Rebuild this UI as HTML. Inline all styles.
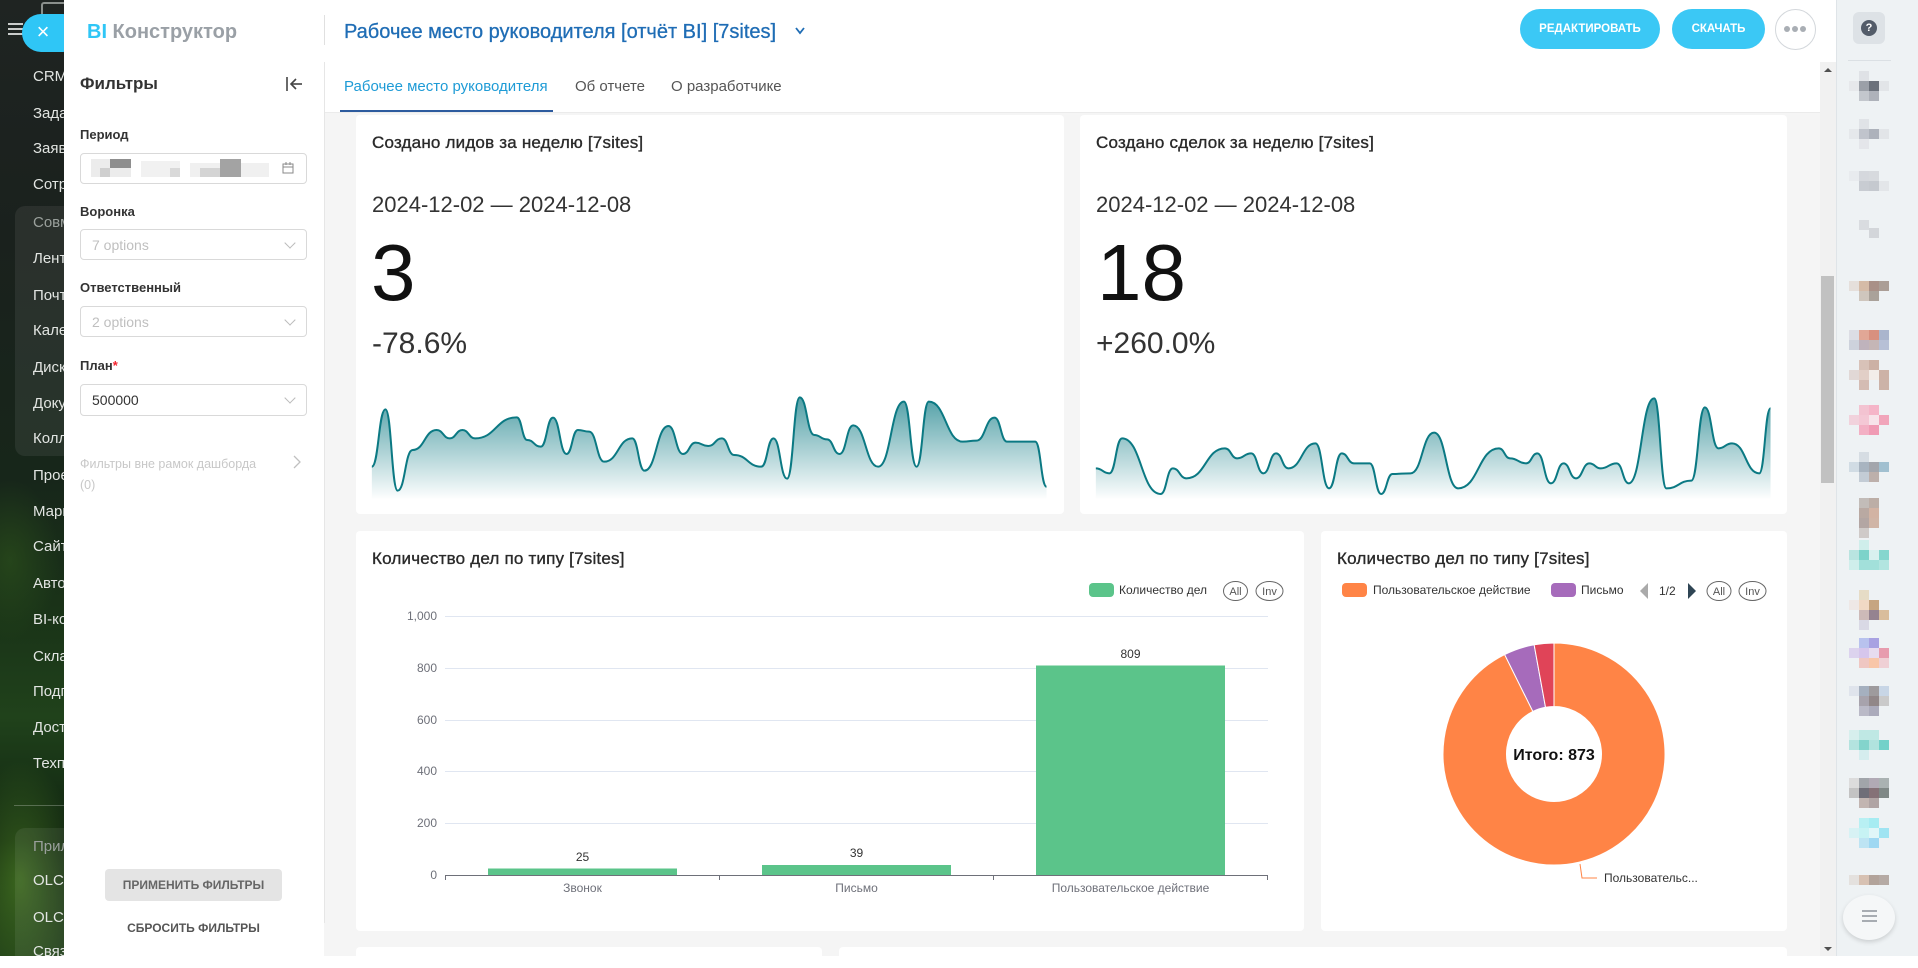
<!DOCTYPE html>
<html><head><meta charset="utf-8">
<style>
*{box-sizing:border-box;margin:0;padding:0}
body{width:1918px;height:956px;overflow:hidden;position:relative;background:#fff;font-family:"Liberation Sans","DejaVu Sans",sans-serif;color:#333}
.a{position:absolute;white-space:nowrap}
.side{position:absolute;left:0;top:0;width:70px;height:956px;background:
radial-gradient(ellipse 60px 120px at 20px 880px,rgba(90,150,40,.55),rgba(0,0,0,0)),
radial-gradient(ellipse 50px 80px at 10px 560px,rgba(60,110,30,.35),rgba(0,0,0,0)),
linear-gradient(180deg,#1f2422 0%,#1a211d 25%,#17261a 50%,#1a3418 65%,#20421b 75%,#0f2210 88%,#1d3a17 100%)}
.mi{position:absolute;left:33px;font-size:15px;color:#e2e5e2;line-height:20px;white-space:nowrap}
.grp{position:absolute;left:15px;width:60px;background:rgba(255,255,255,.07);border-radius:10px}
.card{position:absolute;background:#fff;border-radius:4px}
.lbl{position:absolute;left:80px;font-size:13px;font-weight:bold;color:#333;line-height:16px;white-space:nowrap}
.inp{position:absolute;left:80px;width:227px;height:31px;border:1px solid #d9d9d9;border-radius:4px;background:#fff}
.inp span{position:absolute;left:11px;top:7px;font-size:14px;line-height:16px}
.chev{position:absolute;right:12px;top:9px;width:8px;height:8px;border-right:1px solid #bbb;border-bottom:1px solid #bbb;transform:rotate(45deg)}
.ct{position:absolute;font-size:17px;letter-spacing:0.2px;line-height:20px;color:#2a2a2a;-webkit-text-stroke:0.35px #2a2a2a;white-space:nowrap}
.dt{position:absolute;font-size:22px;line-height:22px;color:#333;white-space:nowrap}
.big{position:absolute;font-size:80px;line-height:80px;color:#111;white-space:nowrap}
.pct{position:absolute;font-size:30px;line-height:30px;color:#333;white-space:nowrap}
.av{position:absolute;left:1849px;width:40px}
.av i{position:absolute;width:10px;height:10px}
</style></head><body>

<!-- left dark sidebar -->
<div class="side"></div>
<div class="a" style="left:41px;top:2px;width:26px;height:12px;border:2px solid #8a8f8c;border-bottom:none;border-radius:3px 3px 0 0"></div>
<div class="a" style="left:8px;top:23px;width:15px;height:2px;background:#c9cccb"></div>
<div class="a" style="left:8px;top:28px;width:15px;height:2px;background:#c9cccb"></div>
<div class="a" style="left:8px;top:33px;width:15px;height:2px;background:#c9cccb"></div>
<div class="grp" style="top:206px;height:250px"></div>
<div class="grp" style="top:828px;height:140px"></div>
<div class="a" style="left:14px;top:805px;width:56px;height:1px;background:rgba(255,255,255,.25)"></div>
<div class="mi" style="top:67px">CRM</div>
<div class="mi" style="top:104px">Задачи</div>
<div class="mi" style="top:139px">Заявки</div>
<div class="mi" style="top:175px">Сотрудники</div>
<div class="mi" style="top:213px;color:#9aa09c">Совместная</div>
<div class="mi" style="top:249px">Лента</div>
<div class="mi" style="top:286px">Почта</div>
<div class="mi" style="top:321px">Календарь</div>
<div class="mi" style="top:358px">Диск</div>
<div class="mi" style="top:394px">Документы</div>
<div class="mi" style="top:429px">Коллабы</div>
<div class="mi" style="top:466px">Проекты</div>
<div class="mi" style="top:502px">Маркетинг</div>
<div class="mi" style="top:537px">Сайты</div>
<div class="mi" style="top:574px">Автоматизация</div>
<div class="mi" style="top:610px">BI-конструктор</div>
<div class="mi" style="top:647px">Склад</div>
<div class="mi" style="top:682px">Подписка</div>
<div class="mi" style="top:718px">Доставка</div>
<div class="mi" style="top:754px">Техподдержка</div>
<div class="mi" style="top:837px;color:#9aa09c">Приложения</div>
<div class="mi" style="top:871px">OLCHAT</div>
<div class="mi" style="top:908px">OLCHAT</div>
<div class="mi" style="top:942px">Связь</div>
<div class="a" style="left:22px;top:14px;width:60px;height:38px;border-radius:19px;background:#2fc6f6"></div>
<div class="a" style="left:33px;top:18px;width:20px;font-size:22px;line-height:28px;color:#fff;text-align:center">×</div>

<!-- filter panel -->
<div class="a" style="left:64px;top:0;width:260px;height:956px;background:#fff"></div>

<!-- main gray area -->
<div class="a" style="left:324px;top:113px;width:1496px;height:843px;background:#f5f5f5"></div>
<div class="a" style="left:324px;top:112px;width:1496px;height:1px;background:#ebebeb"></div>
<div class="a" style="left:324px;top:62px;width:1px;height:861px;background:#e6e6e6"></div>
<div class="a" style="left:324px;top:15px;width:1px;height:30px;background:#e0e0e0"></div>

<!-- header -->
<div class="a" style="left:87px;top:21px;font-size:20px;line-height:22px;font-weight:bold;color:#9aa0a6"><span style="color:#2fc6f6">BI</span> Конструктор</div>
<div class="a" style="left:344px;top:21px;font-size:20px;line-height:22px;color:#1f6db5;-webkit-text-stroke:0.3px #1f6db5">Рабочее место руководителя [отчёт BI] [7sites]</div>
<svg class="a" style="left:794px;top:26px" width="12" height="10"><polyline points="2,2 6,7 10,2" fill="none" stroke="#1f6db5" stroke-width="1.8"/></svg>
<div class="a" style="left:1520px;top:9px;width:140px;height:40px;border-radius:20px;background:#3bc8f5;color:#fff;font-size:11.5px;font-weight:bold;line-height:40px;text-align:center">РЕДАКТИРОВАТЬ</div>
<div class="a" style="left:1672px;top:9px;width:93px;height:40px;border-radius:20px;background:#3bc8f5;color:#fff;font-size:11.5px;font-weight:bold;line-height:40px;text-align:center">СКАЧАТЬ</div>
<div class="a" style="left:1775px;top:9px;width:41px;height:41px;border-radius:50%;border:1px solid #d3d7db;background:#fff"></div>
<div class="a" style="left:1784px;top:26px;width:6px;height:6px;border-radius:50%;background:#a9aeb4"></div>
<div class="a" style="left:1792px;top:26px;width:6px;height:6px;border-radius:50%;background:#a9aeb4"></div>
<div class="a" style="left:1800px;top:26px;width:6px;height:6px;border-radius:50%;background:#a9aeb4"></div>

<!-- tabs -->
<div class="a" style="left:344px;top:78px;font-size:15px;line-height:18px;color:#1e9bd6">Рабочее место руководителя</div>
<div class="a" style="left:575px;top:78px;font-size:15px;line-height:18px;color:#555">Об отчете</div>
<div class="a" style="left:671px;top:78px;font-size:15px;line-height:18px;color:#555">О разработчике</div>
<div class="a" style="left:340px;top:110px;width:213px;height:2px;background:#2d5b9e"></div>

<!-- filters content -->
<div class="a" style="left:80px;top:74px;font-size:17px;font-weight:bold;line-height:20px;color:#333">Фильтры</div>
<svg class="a" style="left:284px;top:76px" width="20" height="16"><line x1="3" y1="1" x2="3" y2="15" stroke="#444" stroke-width="1.6"/><line x1="7" y1="8" x2="18" y2="8" stroke="#444" stroke-width="1.6"/><polyline points="12,3 7,8 12,13" fill="none" stroke="#444" stroke-width="1.6"/></svg>
<div class="lbl" style="top:127px">Период</div>
<div class="inp" style="top:153px"></div>
<div class="a" style="left:91px;top:159px;width:40px;height:18px;background:#ececec"></div>
<div class="a" style="left:110px;top:159px;width:21px;height:9px;background:#8e8e8e"></div>
<div class="a" style="left:100px;top:168px;width:10px;height:9px;background:#cfcfcf"></div>
<div class="a" style="left:141px;top:161px;width:39px;height:16px;background:#f1f1f1"></div>
<div class="a" style="left:170px;top:168px;width:10px;height:9px;background:#d9d9d9"></div>
<div class="a" style="left:190px;top:163px;width:79px;height:14px;background:#f0f0f0"></div>
<div class="a" style="left:220px;top:159px;width:21px;height:18px;background:#a3a3a3"></div>
<div class="a" style="left:200px;top:168px;width:20px;height:9px;background:#d4d4d4"></div>
<svg class="a" style="left:282px;top:162px" width="12" height="12"><rect x="1" y="2" width="10" height="9" fill="none" stroke="#888" stroke-width="1"/><line x1="1" y1="5" x2="11" y2="5" stroke="#888"/><line x1="4" y1="0" x2="4" y2="3" stroke="#888"/><line x1="8" y1="0" x2="8" y2="3" stroke="#888"/></svg>
<div class="lbl" style="top:204px">Воронка</div>
<div class="inp" style="top:229px"><span style="color:#bfbfbf">7 options</span><div class="chev"></div></div>
<div class="lbl" style="top:280px">Ответственный</div>
<div class="inp" style="top:306px"><span style="color:#bfbfbf">2 options</span><div class="chev"></div></div>
<div class="lbl" style="top:358px">План<span style="color:#f5222d">*</span></div>
<div class="inp" style="top:384px;height:32px"><span style="color:#333">500000</span><div class="chev"></div></div>
<div class="a" style="left:80px;top:456px;font-size:12.5px;line-height:16px;color:#c8c8c8">Фильтры вне рамок дашборда</div>
<div class="a" style="left:80px;top:477px;font-size:12.5px;line-height:16px;color:#c8c8c8">(0)</div>
<svg class="a" style="left:292px;top:455px" width="10" height="14"><polyline points="2,1 8,7 2,13" fill="none" stroke="#c0c0c0" stroke-width="1.3"/></svg>
<div class="a" style="left:105px;top:869px;width:177px;height:32px;background:#e4e4e4;border-radius:4px;font-size:12px;font-weight:bold;color:#666;line-height:32px;text-align:center">ПРИМЕНИТЬ ФИЛЬТРЫ</div>
<div class="a" style="left:105px;top:920px;width:177px;font-size:12px;font-weight:bold;color:#555;line-height:16px;text-align:center">СБРОСИТЬ ФИЛЬТРЫ</div>

<!-- scrollbar -->
<div class="a" style="left:1820px;top:62px;width:16px;height:894px;background:#f1f1f1"></div>
<div class="a" style="left:1821px;top:276px;width:13px;height:207px;background:#c1c1c1"></div>
<svg class="a" style="left:1822px;top:66px" width="12" height="8"><polygon points="2,6 6,2 10,6" fill="#505050"/></svg>
<svg class="a" style="left:1822px;top:945px" width="12" height="8"><polygon points="2,2 6,6 10,2" fill="#505050"/></svg>

<!-- right panel -->
<div class="a" style="left:1836px;top:0;width:82px;height:956px;background:#eef2f4;border-left:1px solid #dfe4e8"></div>
<div class="a" style="left:1853px;top:12px;width:32px;height:32px;border-radius:6px;background:#dde2e6"></div>
<div class="a" style="left:1861px;top:20px;width:16px;height:16px;border-radius:50%;background:#535c69;color:#fff;font-size:11px;font-weight:bold;line-height:16px;text-align:center">?</div>
<div class="a" style="left:1848px;top:60px;width:43px;height:1px;background:#dbe0e4"></div>

<div class="av" style="top:71px"><i style="left:0;top:10px;background:#e6e8eb"></i><i style="left:10px;top:0;background:#dfe2e6"></i><i style="left:10px;top:10px;background:#9ba0a8"></i><i style="left:20px;top:10px;background:#6b717b"></i><i style="left:10px;top:20px;background:#c3c7cd"></i><i style="left:20px;top:20px;background:#aeb2ba"></i><i style="left:30px;top:10px;background:#e2e5e8"></i></div>
<div class="av" style="top:119px"><i style="left:0;top:10px;background:#e5e8eb"></i><i style="left:10px;top:0;background:#e0e3e7"></i><i style="left:10px;top:10px;background:#c0c4cc"></i><i style="left:20px;top:10px;background:#adb2bb"></i><i style="left:30px;top:10px;background:#e2e5e8"></i><i style="left:10px;top:20px;background:#e4e6ea"></i></div>
<div class="av" style="top:171px"><i style="left:0;top:0;background:#e8ebee"></i><i style="left:10px;top:0;background:#d5d8dd"></i><i style="left:20px;top:0;background:#d7dade"></i><i style="left:10px;top:10px;background:#c8ccd2"></i><i style="left:20px;top:10px;background:#c5c9cf"></i><i style="left:30px;top:10px;background:#e3e6e9"></i></div>
<div class="av" style="top:220px"><i style="left:10px;top:0;background:#d9dce0"></i><i style="left:20px;top:8px;background:#d3d6da"></i></div>
<div class="av" style="top:271px"><i style="left:0;top:10px;background:#e5dfdb"></i><i style="left:10px;top:10px;background:#d5bba7"></i><i style="left:20px;top:10px;background:#a99087"></i><i style="left:30px;top:10px;background:#ab9e96"></i><i style="left:10px;top:20px;background:#cfc6bd"></i><i style="left:20px;top:20px;background:#aaa29a"></i></div>
<div class="av" style="top:320px"><i style="left:0;top:10px;background:#dcdde4"></i><i style="left:10px;top:10px;background:#e1a796"></i><i style="left:20px;top:10px;background:#d8907f"></i><i style="left:30px;top:10px;background:#aab5cd"></i><i style="left:0;top:20px;background:#cdd2dc"></i><i style="left:10px;top:20px;background:#bfb3bc"></i><i style="left:20px;top:20px;background:#c5b6b6"></i><i style="left:30px;top:20px;background:#b7c0d6"></i></div>
<div class="av" style="top:360px"><i style="left:0;top:10px;background:#e1d8d6"></i><i style="left:10px;top:0;background:#d8c2b8"></i><i style="left:20px;top:0;background:#ccb1a5"></i><i style="left:10px;top:10px;background:#e2cfc7"></i><i style="left:20px;top:10px;background:#f3ede9"></i><i style="left:30px;top:10px;background:#cdb2a6"></i><i style="left:10px;top:20px;background:#d4bcb3"></i><i style="left:30px;top:20px;background:#ccb3a8"></i></div>
<div class="av" style="top:405px"><i style="left:0;top:10px;background:#f1d2dc"></i><i style="left:10px;top:0;background:#f3c3d1"></i><i style="left:20px;top:0;background:#f5b5c8"></i><i style="left:10px;top:10px;background:#f4c8d5"></i><i style="left:20px;top:10px;background:#f7e4ea"></i><i style="left:30px;top:10px;background:#f1a5ba"></i><i style="left:10px;top:20px;background:#f3b0c4"></i><i style="left:20px;top:20px;background:#f09bb4"></i></div>
<div class="av" style="top:452px"><i style="left:0;top:10px;background:#d1dce4"></i><i style="left:10px;top:0;background:#d6dde3"></i><i style="left:10px;top:10px;background:#a8b4c0"></i><i style="left:20px;top:10px;background:#a3a6ac"></i><i style="left:30px;top:10px;background:#a1c0d0"></i><i style="left:10px;top:20px;background:#c3ccd5"></i><i style="left:20px;top:20px;background:#bdb0ab"></i></div>
<div class="av" style="top:498px"><i style="left:10px;top:0;background:#c2bcb8"></i><i style="left:20px;top:0;background:#bcaea6"></i><i style="left:10px;top:10px;background:#b9a9a2"></i><i style="left:20px;top:10px;background:#d2b3a3"></i><i style="left:10px;top:20px;background:#b3a6a3"></i><i style="left:20px;top:20px;background:#d0b5a6"></i><i style="left:10px;top:30px;background:#cfcac8"></i></div>
<div class="av" style="top:540px"><i style="left:0;top:10px;background:#b9e4e0"></i><i style="left:10px;top:10px;background:#7dd3ca"></i><i style="left:20px;top:10px;background:#d8f1ef"></i><i style="left:30px;top:10px;background:#85d6ce"></i><i style="left:0;top:20px;background:#cfeeeb"></i><i style="left:10px;top:20px;background:#a2e0da"></i><i style="left:20px;top:20px;background:#a2e0da"></i><i style="left:30px;top:20px;background:#b2e5e0"></i><i style="left:10px;top:0;background:#cfeeeb"></i></div>
<div class="av" style="top:590px"><i style="left:10px;top:0;background:#e6dcc6"></i><i style="left:0;top:10px;background:#eee8e6"></i><i style="left:10px;top:10px;background:#f1d9c4"></i><i style="left:20px;top:10px;background:#c6a581"></i><i style="left:10px;top:20px;background:#cdbab8"></i><i style="left:20px;top:20px;background:#958390"></i><i style="left:30px;top:20px;background:#d9bd9c"></i><i style="left:10px;top:30px;background:#d9d9e5"></i></div>
<div class="av" style="top:638px"><i style="left:10px;top:0;background:#b8c2ee"></i><i style="left:20px;top:0;background:#a8a2e2"></i><i style="left:0;top:10px;background:#dcd3ee"></i><i style="left:10px;top:10px;background:#d6c6ec"></i><i style="left:20px;top:10px;background:#e7dcef"></i><i style="left:30px;top:10px;background:#e79cae"></i><i style="left:10px;top:20px;background:#efc7c2"></i><i style="left:20px;top:20px;background:#f8c6a8"></i><i style="left:30px;top:20px;background:#efd0d5"></i></div>
<div class="av" style="top:686px"><i style="left:0;top:0;background:#dfe4ec"></i><i style="left:10px;top:0;background:#a5b0bf"></i><i style="left:20px;top:0;background:#9e9b9d"></i><i style="left:30px;top:0;background:#c8d6e6"></i><i style="left:10px;top:10px;background:#a7a3ac"></i><i style="left:20px;top:10px;background:#918788"></i><i style="left:30px;top:10px;background:#cacaca"></i><i style="left:10px;top:20px;background:#babac7"></i><i style="left:20px;top:20px;background:#ababbb"></i></div>
<div class="av" style="top:730px"><i style="left:0;top:0;background:#d6efed"></i><i style="left:10px;top:0;background:#bfe8e4"></i><i style="left:20px;top:0;background:#bfe8e4"></i><i style="left:0;top:10px;background:#b3e3df"></i><i style="left:10px;top:10px;background:#83d4cc"></i><i style="left:20px;top:10px;background:#b0e3de"></i><i style="left:30px;top:10px;background:#73d1c9"></i><i style="left:10px;top:20px;background:#d5edee"></i></div>
<div class="av" style="top:778px"><i style="left:0;top:0;background:#dcdcdc"></i><i style="left:10px;top:0;background:#a1a5aa"></i><i style="left:20px;top:0;background:#b1aab5"></i><i style="left:30px;top:0;background:#aab2b2"></i><i style="left:0;top:10px;background:#c3c3c3"></i><i style="left:10px;top:10px;background:#6f6e78"></i><i style="left:20px;top:10px;background:#857177"></i><i style="left:30px;top:10px;background:#7f8886"></i><i style="left:10px;top:20px;background:#c2b5b1"></i><i style="left:20px;top:20px;background:#b0a4a4"></i></div>
<div class="av" style="top:818px"><i style="left:10px;top:0;background:#b8f0f3"></i><i style="left:20px;top:0;background:#a6ecf2"></i><i style="left:0;top:10px;background:#d7f2f4"></i><i style="left:10px;top:10px;background:#c7f3f4"></i><i style="left:20px;top:10px;background:#e0f6f8"></i><i style="left:30px;top:10px;background:#9fe4f2"></i><i style="left:10px;top:20px;background:#bde4f3"></i><i style="left:20px;top:20px;background:#9fd8f2"></i></div>
<div class="av" style="top:867px"><i style="left:0;top:8px;background:#e4e1de"></i><i style="left:10px;top:8px;background:#d7c1b2"></i><i style="left:20px;top:8px;background:#b2a39a"></i><i style="left:30px;top:8px;background:#b5aaa4"></i></div>
<div class="a" style="left:1843px;top:895px;width:52px;height:45px;border-radius:50%;background:#f5f7f8;box-shadow:0 2px 5px rgba(0,0,0,.15)"></div>
<div class="a" style="left:1862px;top:910px;width:15px;height:2px;background:#a7acb2"></div>
<div class="a" style="left:1862px;top:915px;width:15px;height:2px;background:#a7acb2"></div>
<div class="a" style="left:1862px;top:920px;width:15px;height:2px;background:#a7acb2"></div>

<!-- cards -->
<div class="card" style="left:356px;top:115px;width:708px;height:399px"></div>
<div class="card" style="left:1080px;top:115px;width:707px;height:399px"></div>
<div class="card" style="left:356px;top:531px;width:948px;height:400px"></div>
<div class="card" style="left:1321px;top:531px;width:466px;height:400px"></div>
<div class="card" style="left:356px;top:947px;width:466px;height:20px"></div>
<div class="card" style="left:839px;top:947px;width:948px;height:20px"></div>

<div class="ct" style="left:372px;top:133px">Создано лидов за неделю [7sites]</div>
<div class="dt" style="left:372px;top:194px">2024-12-02 — 2024-12-08</div>
<div class="big" style="left:371px;top:233px">3</div>
<div class="pct" style="left:372px;top:329px">-78.6%</div>

<div class="ct" style="left:1096px;top:133px">Создано сделок за неделю [7sites]</div>
<div class="dt" style="left:1096px;top:194px">2024-12-02 — 2024-12-08</div>
<div class="big" style="left:1097px;top:233px">18</div>
<div class="pct" style="left:1096px;top:329px">+260.0%</div>

<div class="ct" style="left:372px;top:549px">Количество дел по типу [7sites]</div>
<div class="ct" style="left:1337px;top:549px">Количество дел по типу [7sites]</div>

<svg class="a" style="left:0;top:0" width="1918" height="956" viewBox="0 0 1918 956" font-family="Liberation Sans, DejaVu Sans, sans-serif">
<defs>
<linearGradient id="g" x1="0" y1="0" x2="0" y2="1">
<stop offset="0" stop-color="rgb(0,115,125)" stop-opacity="0.68"/>
<stop offset="1" stop-color="rgb(0,115,125)" stop-opacity="0.01"/>
</linearGradient>
</defs>

<!-- sparkline 1 -->
<svg x="356" y="390" width="710" height="120" viewBox="0 0 1568 360" preserveAspectRatio="none">
<path d="M35,230 C50,230 50,58 65,58 C78.5,58 78.5,302 92,302 C108.5,302 108.5,180 125,180 C151.5,180 151.5,120 178,120 C192.5,120 192.5,145 207,145 C221,145 221,120 235,120 C249,120 249,145 263,145 C309,145 309,82 355,82 C366.5,82 366.5,150 378,150 C393,150 393,170 408,170 C421.5,170 421.5,83 435,83 C450,83 450,192 465,192 C477.5,192 477.5,120 490,120 C502.5,120 502.5,125 515,125 C531.5,125 531.5,215 548,215 C579,215 579,145 610,145 C623.5,145 623.5,242 637,242 C663.5,242 663.5,108 690,108 C706,108 706,192 722,192 C736,192 736,158 750,158 C764,158 764,168 778,168 C793,168 793,145 808,145 C821.5,145 821.5,195 835,195 C865,195 865,230 895,230 C908.5,230 908.5,145 922,145 C937,145 937,266 952,266 C966,266 966,22 980,22 C996,22 996,135 1012,135 C1026,135 1026,148 1040,148 C1054,148 1054,192 1068,192 C1083,192 1083,106 1098,106 C1125.5,106 1125.5,230 1153,230 C1181.5,230 1181.5,35 1210,35 C1224,35 1224,230 1238,230 C1251.5,230 1251.5,35 1265,35 C1302.5,35 1302.5,155 1340,155 C1355,155 1355,152 1370,152 C1390,152 1390,83 1410,83 C1424,83 1424,155 1438,155 C1469,155 1469,155 1500,155 C1512.5,155 1512.5,290 1525,290 L1525,325 L35,325 Z" fill="url(#g)"/>
<path d="M35,230 C50,230 50,58 65,58 C78.5,58 78.5,302 92,302 C108.5,302 108.5,180 125,180 C151.5,180 151.5,120 178,120 C192.5,120 192.5,145 207,145 C221,145 221,120 235,120 C249,120 249,145 263,145 C309,145 309,82 355,82 C366.5,82 366.5,150 378,150 C393,150 393,170 408,170 C421.5,170 421.5,83 435,83 C450,83 450,192 465,192 C477.5,192 477.5,120 490,120 C502.5,120 502.5,125 515,125 C531.5,125 531.5,215 548,215 C579,215 579,145 610,145 C623.5,145 623.5,242 637,242 C663.5,242 663.5,108 690,108 C706,108 706,192 722,192 C736,192 736,158 750,158 C764,158 764,168 778,168 C793,168 793,145 808,145 C821.5,145 821.5,195 835,195 C865,195 865,230 895,230 C908.5,230 908.5,145 922,145 C937,145 937,266 952,266 C966,266 966,22 980,22 C996,22 996,135 1012,135 C1026,135 1026,148 1040,148 C1054,148 1054,192 1068,192 C1083,192 1083,106 1098,106 C1125.5,106 1125.5,230 1153,230 C1181.5,230 1181.5,35 1210,35 C1224,35 1224,230 1238,230 C1251.5,230 1251.5,35 1265,35 C1302.5,35 1302.5,155 1340,155 C1355,155 1355,152 1370,152 C1390,152 1390,83 1410,83 C1424,83 1424,155 1438,155 C1469,155 1469,155 1500,155 C1512.5,155 1512.5,290 1525,290" fill="none" stroke="#0b7983" stroke-width="2" vector-effect="non-scaling-stroke"/>
</svg>

<!-- sparkline 2 -->
<svg x="1080" y="390" width="710" height="120" viewBox="0 0 1568 360" preserveAspectRatio="none">
<path d="M35,235 C50,235 50,250 65,250 C79,250 79,145 93,145 C135.5,145 135.5,312 178,312 C191.5,312 191.5,235 205,235 C220,235 220,265 235,265 C277.5,265 277.5,175 320,175 C333.5,175 333.5,205 347,205 C362.5,205 362.5,190 378,190 C391.5,190 391.5,250 405,250 C419,250 419,190 433,190 C446.5,190 446.5,235 460,235 C490,235 490,160 520,160 C535,160 535,295 550,295 C564,295 564,190 578,190 C591.5,190 591.5,220 605,220 C622.5,220 622.5,220 640,220 C652.5,220 652.5,312 665,312 C677.5,312 677.5,252 690,252 C710,252 710,250 730,250 C756,250 756,128 782,128 C808.5,128 808.5,295 835,295 C880,295 880,175 925,175 C937.5,175 937.5,205 950,205 C967.5,205 967.5,220 985,220 C997.5,220 997.5,190 1010,190 C1025,190 1025,280 1040,280 C1054,280 1054,220 1068,220 C1081.5,220 1081.5,265 1095,265 C1110,265 1110,220 1125,220 C1137.5,220 1137.5,235 1150,235 C1167.5,235 1167.5,220 1185,220 C1198.5,220 1198.5,280 1212,280 C1240,280 1240,25 1268,25 C1281.5,25 1281.5,295 1295,295 C1322.5,295 1322.5,272 1350,272 C1365,272 1365,52 1380,52 C1395,52 1395,175 1410,175 C1425,175 1425,160 1440,160 C1470,160 1470,250 1500,250 C1512.5,250 1512.5,55 1525,55 L1525,325 L35,325 Z" fill="url(#g)"/>
<path d="M35,235 C50,235 50,250 65,250 C79,250 79,145 93,145 C135.5,145 135.5,312 178,312 C191.5,312 191.5,235 205,235 C220,235 220,265 235,265 C277.5,265 277.5,175 320,175 C333.5,175 333.5,205 347,205 C362.5,205 362.5,190 378,190 C391.5,190 391.5,250 405,250 C419,250 419,190 433,190 C446.5,190 446.5,235 460,235 C490,235 490,160 520,160 C535,160 535,295 550,295 C564,295 564,190 578,190 C591.5,190 591.5,220 605,220 C622.5,220 622.5,220 640,220 C652.5,220 652.5,312 665,312 C677.5,312 677.5,252 690,252 C710,252 710,250 730,250 C756,250 756,128 782,128 C808.5,128 808.5,295 835,295 C880,295 880,175 925,175 C937.5,175 937.5,205 950,205 C967.5,205 967.5,220 985,220 C997.5,220 997.5,190 1010,190 C1025,190 1025,280 1040,280 C1054,280 1054,220 1068,220 C1081.5,220 1081.5,265 1095,265 C1110,265 1110,220 1125,220 C1137.5,220 1137.5,235 1150,235 C1167.5,235 1167.5,220 1185,220 C1198.5,220 1198.5,280 1212,280 C1240,280 1240,25 1268,25 C1281.5,25 1281.5,295 1295,295 C1322.5,295 1322.5,272 1350,272 C1365,272 1365,52 1380,52 C1395,52 1395,175 1410,175 C1425,175 1425,160 1440,160 C1470,160 1470,250 1500,250 C1512.5,250 1512.5,55 1525,55" fill="none" stroke="#0b7983" stroke-width="2" vector-effect="non-scaling-stroke"/>
</svg>

<!-- bar chart -->
<g stroke="#e0e6f1" stroke-width="1">
<line x1="445" y1="616.5" x2="1268" y2="616.5"/>
<line x1="445" y1="668.5" x2="1268" y2="668.5"/>
<line x1="445" y1="720.5" x2="1268" y2="720.5"/>
<line x1="445" y1="771.5" x2="1268" y2="771.5"/>
<line x1="445" y1="823.5" x2="1268" y2="823.5"/>
</g>
<g font-size="12" fill="#6e7079" text-anchor="end">
<text x="437" y="620">1,000</text>
<text x="437" y="672">800</text>
<text x="437" y="724">600</text>
<text x="437" y="775">400</text>
<text x="437" y="827">200</text>
<text x="437" y="879">0</text>
</g>
<g fill="#5bc48a">
<rect x="488" y="868.5" width="189" height="6.5"/>
<rect x="762" y="865" width="189" height="10"/>
<rect x="1036" y="665.5" width="189" height="209.5"/>
</g>
<line x1="445" y1="875.5" x2="1268" y2="875.5" stroke="#6e7079" stroke-width="1"/>
<g stroke="#6e7079" stroke-width="1">
<line x1="445.5" y1="875" x2="445.5" y2="880"/>
<line x1="719.5" y1="875" x2="719.5" y2="880"/>
<line x1="993.5" y1="875" x2="993.5" y2="880"/>
<line x1="1267.5" y1="875" x2="1267.5" y2="880"/>
</g>
<g font-size="12" fill="#333" text-anchor="middle">
<text x="582.5" y="861">25</text>
<text x="856.5" y="857">39</text>
<text x="1130.5" y="658">809</text>
</g>
<g font-size="12" fill="#6e7079" text-anchor="middle">
<text x="582.5" y="892">Звонок</text>
<text x="856.5" y="892">Письмо</text>
<text x="1130.5" y="892">Пользовательское действие</text>
</g>
<rect x="1089" y="583" width="25" height="14" rx="4" fill="#5bc48a"/>
<text x="1119" y="594" font-size="12" fill="#333">Количество дел</text>
<ellipse cx="1235.5" cy="591" rx="12" ry="9.5" fill="none" stroke="#666" stroke-width="1"/>
<text x="1235.5" y="595" font-size="11" fill="#555" text-anchor="middle">All</text>
<ellipse cx="1269.5" cy="591" rx="13.5" ry="9.5" fill="none" stroke="#666" stroke-width="1"/>
<text x="1269.5" y="595" font-size="11" fill="#555" text-anchor="middle">Inv</text>

<!-- donut -->
<rect x="1342" y="583" width="25" height="14" rx="4" fill="#ff8446"/>
<text x="1373" y="594" font-size="12" fill="#333">Пользовательское действие</text>
<rect x="1551" y="583" width="25" height="14" rx="4" fill="#a66bbb"/>
<text x="1581" y="594" font-size="12" fill="#333">Письмо</text>
<polygon points="1648,583 1648,599 1640,591" fill="#aaa"/>
<text x="1659" y="595" font-size="12" fill="#333">1/2</text>
<polygon points="1688,583 1688,599 1696,591" fill="#2f4554"/>
<ellipse cx="1719" cy="591" rx="12" ry="9.5" fill="none" stroke="#666" stroke-width="1"/>
<text x="1719" y="595" font-size="11" fill="#555" text-anchor="middle">All</text>
<ellipse cx="1752.5" cy="591" rx="13.5" ry="9.5" fill="none" stroke="#666" stroke-width="1"/>
<text x="1752.5" y="595" font-size="11" fill="#555" text-anchor="middle">Inv</text>

<g stroke="#fff" stroke-width="1">
<path d="M1554,643 A111,111 0 1 1 1504.65,654.58 L1532.88,711.45 A47.5,47.5 0 1 0 1554,706.5 Z" fill="#ff8446"/>
<path d="M1504.65,654.58 A111,111 0 0 1 1534.15,644.79 L1545.51,707.26 A47.5,47.5 0 0 0 1532.88,711.45 Z" fill="#a66bbb"/>
<path d="M1534.15,644.79 A111,111 0 0 1 1554,643 L1554,706.5 A47.5,47.5 0 0 0 1545.51,707.26 Z" fill="#e04458"/>
</g>
<text x="1554" y="760" font-size="16" font-weight="bold" fill="#111" text-anchor="middle">Итого: 873</text>
<polyline points="1580,864 1582,878 1597,878" fill="none" stroke="#ff8446" stroke-width="1"/>
<text x="1604" y="882" font-size="12" fill="#333">Пользовательс...</text>
</svg>

</body></html>
